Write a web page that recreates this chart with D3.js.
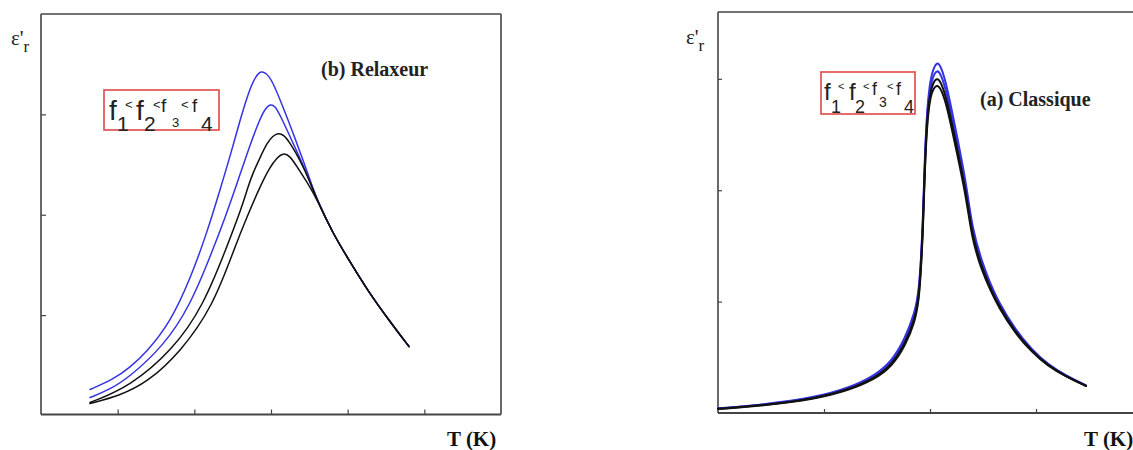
<!DOCTYPE html>
<html><head><meta charset="utf-8">
<script src="https://cdn.jsdelivr.net/npm/d3@7"></script>
<style>body{margin:0;background:#fff;} svg{display:block;}</style>
</head><body>
<script>
// ---------- DATA ----------
// (b) Relaxeur : temperature (arb. units) and epsilon'_r (arb. units) for f1..f4
const relaxTempF1 = [0.639,0.939,1.161,1.383,1.683,1.943,2.165,2.335,2.465,2.596,2.726,2.804,2.869,2.935,3.013,3.156,3.287,3.417,3.509,3.600,3.809,4.030,4.252,4.552,4.800];
const relaxEpsF1  = [0.259,0.358,0.478,0.637,0.925,1.353,1.821,2.249,2.577,2.945,3.264,3.383,3.433,3.413,3.343,3.075,2.816,2.547,2.348,2.149,1.811,1.532,1.254,0.935,0.687];
const relaxTempF2 = [0.639,0.900,1.161,1.591,1.943,2.243,2.400,2.556,2.726,2.856,2.922,2.987,3.052,3.117,3.287,3.469,3.600,3.809,4.030,4.252,4.552,4.800];
const relaxEpsF2  = [0.179,0.259,0.388,0.687,1.085,1.652,1.970,2.308,2.697,2.955,3.055,3.104,3.085,2.995,2.716,2.408,2.149,1.811,1.532,1.254,0.935,0.687];
const relaxTempF3 = [0.639,1.161,1.722,2.113,2.426,2.622,2.700,2.765,2.856,2.948,3.026,3.091,3.169,3.248,3.378,3.509,3.600,3.809,4.030,4.252,4.552,4.800];
const relaxEpsF3  = [0.129,0.289,0.657,1.085,1.682,2.080,2.279,2.418,2.567,2.716,2.786,2.816,2.796,2.716,2.547,2.328,2.149,1.811,1.532,1.254,0.935,0.687];
const relaxTempF4 = [0.639,1.030,1.383,1.813,2.243,2.530,2.687,2.856,2.987,3.078,3.156,3.248,3.339,3.509,3.600,3.809,4.030,4.252,4.552,4.800];
const relaxEpsF4  = [0.119,0.199,0.328,0.627,1.085,1.682,1.980,2.279,2.478,2.567,2.617,2.587,2.478,2.279,2.149,1.811,1.532,1.254,0.935,0.687];

// (a) Classique : shared temperature grid, epsilon'_r for f1..f4
const classTemp  = [0,0.443,0.915,1.226,1.481,1.642,1.764,1.858,1.896,1.915,1.934,1.948,1.967,1.991,2.019,2.064,2.104,2.158,2.252,2.346,2.396,2.491,2.566,2.642,2.802,2.962,3.113,3.274,3.472];
const classEpsF1 = [0.042,0.076,0.140,0.222,0.336,0.468,0.670,0.900,1.110,1.380,1.750,2.210,2.640,2.910,3.060,3.160,3.110,2.945,2.500,2.040,1.665,1.355,1.170,1.005,0.750,0.567,0.435,0.340,0.248];
const classEpsF2 = [0.040,0.073,0.135,0.215,0.325,0.450,0.645,0.870,1.080,1.350,1.715,2.170,2.600,2.860,3.000,3.088,3.040,2.880,2.445,2.000,1.630,1.330,1.150,0.990,0.740,0.560,0.430,0.337,0.246];
const classEpsF3 = [0.038,0.070,0.130,0.208,0.314,0.435,0.620,0.840,1.050,1.320,1.680,2.130,2.560,2.810,2.945,3.015,2.970,2.820,2.395,1.960,1.595,1.300,1.130,0.975,0.728,0.553,0.426,0.334,0.244];
const classEpsF4 = [0.036,0.067,0.125,0.201,0.304,0.421,0.600,0.815,1.021,1.290,1.648,2.095,2.516,2.767,2.894,2.953,2.911,2.767,2.346,1.916,1.558,1.272,1.110,0.958,0.716,0.546,0.421,0.331,0.242];

const relaxXTicks = [1,2,3,4,5];
const relaxYTicks = [1,2,3];
const classXTicks = [1,2,3];
const classYTicks = [1,2,3];

const seriesNames = ["f1","f2","f3","f4"];
const seriesColors = ["#3434e4","#3434e4","#111111","#111111"];

// ---------- DRAW ----------
const W = 1133, H = 450;
const svg = d3.select("body").append("svg").attr("width", W).attr("height", H)
  .style("font-family","'Liberation Serif','Times New Roman',serif");

function zip(xs, ys){ return xs.map((x,i)=>[x, ys[i]]); }

function panel(opts){
  const {x, y, xTicks, yTicks, series, lineWidth, frameRight} = opts;
  const g = svg.append("g");
  const [x0,x1] = x.range();
  const stroke = "#444";
  g.append("line").attr("x1",x0).attr("x2",x1).attr("y1",opts.frameTop).attr("y2",opts.frameTop)
    .attr("stroke",stroke).attr("stroke-width",1.6);
  g.append("line").attr("x1",x0).attr("x2",x1).attr("y1",opts.frameBottom).attr("y2",opts.frameBottom)
    .attr("stroke",stroke).attr("stroke-width",1.8);
  g.append("line").attr("x1",x0).attr("x2",x0).attr("y1",opts.frameTop).attr("y2",opts.frameBottom)
    .attr("stroke",stroke).attr("stroke-width",1.6);
  if (frameRight) g.append("line").attr("x1",x1).attr("x2",x1).attr("y1",opts.frameTop).attr("y2",opts.frameBottom)
    .attr("stroke",stroke).attr("stroke-width",1.6);
  const ax = g.append("g").attr("transform",`translate(0,${opts.frameBottom})`)
    .call(d3.axisBottom(x).tickValues(xTicks).tickSizeInner(-opts.tickLen).tickSizeOuter(0).tickFormat(""));
  ax.select(".domain").remove();
  ax.selectAll("line").attr("stroke",stroke).attr("stroke-width",1.2);
  const ay = g.append("g").attr("transform",`translate(${x0},0)`)
    .call(d3.axisLeft(y).tickValues(yTicks).tickSizeInner(-opts.tickLen).tickSizeOuter(0).tickFormat(""));
  ay.select(".domain").remove();
  ay.selectAll("line").attr("stroke",stroke).attr("stroke-width",1.2);
  const line = d3.line().x(d=>x(d[0])).y(d=>y(d[1])).curve(d3.curveBasis);
  series.forEach((s,i)=>{
    g.append("path").datum(s).attr("d",line).attr("fill","none")
      .attr("stroke",seriesColors[i]).attr("stroke-width",lineWidth)
      .attr("stroke-linejoin","round").attr("stroke-linecap","round")
      .attr("class","series-"+seriesNames[i]);
  });
  return g;
}

// Left panel : (b) Relaxeur
const xL = d3.scaleLinear().domain([0,6]).range([41,501]);
const yL = d3.scaleLinear().domain([0,4]).range([415.5,14]);
panel({x:xL, y:yL, xTicks:relaxXTicks, yTicks:relaxYTicks, lineWidth:1.5, frameRight:true,
  frameTop:14, frameBottom:414.5, tickLen:5,
  series:[zip(relaxTempF1,relaxEpsF1), zip(relaxTempF2,relaxEpsF2), zip(relaxTempF3,relaxEpsF3), zip(relaxTempF4,relaxEpsF4)]});

// Right panel : (a) Classique
const xR = d3.scaleLinear().domain([0,4]).range([718,1142]);
const yR = d3.scaleLinear().domain([0,3.6]).range([413,12]);
panel({x:xR, y:yR, xTicks:classXTicks, yTicks:classYTicks, lineWidth:2, frameRight:true,
  frameTop:12, frameBottom:413, tickLen:4,
  series:[zip(classTemp,classEpsF1), zip(classTemp,classEpsF2), zip(classTemp,classEpsF3), zip(classTemp,classEpsF4)]});

// Axis labels
function epsLabel(x, y){
  const t = svg.append("text").attr("x",x).attr("y",y).attr("font-size",21).attr("fill","#222");
  t.append("tspan").text("ε'");
  t.append("tspan").attr("dy",7).attr("font-size",17).text("r");
}
epsLabel(11, 45);
epsLabel(686, 44);

function tLabel(x, y){
  svg.append("text").attr("x",x).attr("y",y).attr("font-size",21).attr("font-weight","bold")
    .attr("fill","#111").text("T (K)");
}
tLabel(447, 446);
tLabel(1084, 446);

svg.append("text").attr("x",321).attr("y",76).attr("font-size",20).attr("font-weight","bold")
  .attr("fill","#222").text("(b) Relaxeur");
svg.append("text").attr("x",980).attr("y",106).attr("font-size",20).attr("font-weight","bold")
  .attr("fill","#222").text("(a) Classique");

// Legend boxes "f1<f2<f3<f4"
function legend(x0, y0, w, h, glyphs){
  const g = svg.append("g").attr("transform",`translate(${x0},${y0})`)
    .style("font-family","'Liberation Sans',Arial,sans-serif");
  g.append("rect").attr("width",w).attr("height",h).attr("fill","#fff")
    .attr("stroke","#e04848").attr("stroke-width",1.6);
  glyphs.forEach(([t,dx,dy,fs])=>{
    g.append("text").attr("x",dx).attr("y",dy).attr("font-size",fs).attr("fill","#222").text(t);
  });
}
legend(104, 90, 115, 40, [
  ["f",5,30,28],["1",13,41,21],["<",21,19,13],
  ["f",32,30,28],["2",40,41,21],["<",49,19,13],
  ["f",57,22,19],["3",68,37,13],["<",77,19,13],
  ["f",88,22,19],["4",97,41,21]
]);
legend(821, 72, 94, 42, [
  ["f",3,28,24],["1",10,41,18],["<",17,18,11],
  ["f",28,28,24],["2",34,41,18],["<",42,18,11],
  ["f",51,23,18],["3",58,35,14],["<",66,18,11],
  ["f",75,23,18],["4",83,41,18]
]);
</script>
</body></html>
